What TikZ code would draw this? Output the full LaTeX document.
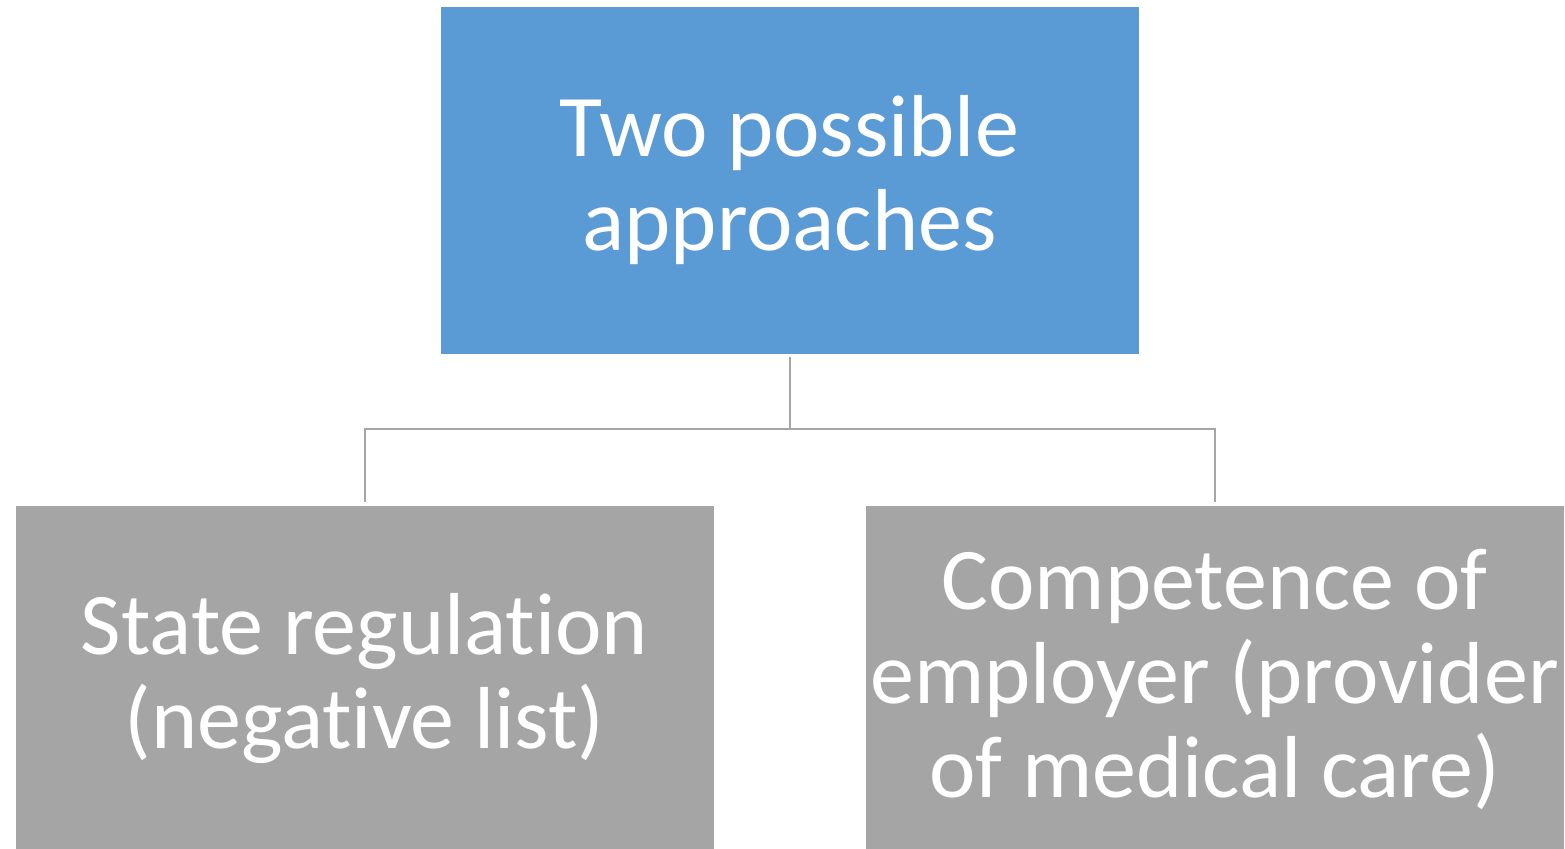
\documentclass[tikz,border=0pt]{standalone}
\usepackage{fontspec}
\setmainfont[Ligatures=NoCommon]{Carlito}
\usepackage{tikz}
\definecolor{kasseblaa}{HTML}{5B9BD5}
\definecolor{kassegraa}{HTML}{A5A5A5}
\definecolor{linjegraa}{HTML}{A6A6A6}
\tikzset{
    %Define style for boxes
    kasse/.style={
           rectangle,
           draw=white, very thin,
           text=white,
           inner sep=0pt,
           minimum width=349.5pt,
           minimum height=174pt,
           align=center,
           font=\fontsize{44}{47}\selectfont},
    topkasse/.style={kasse, fill=kasseblaa},
    undkasse/.style={kasse, fill=kassegraa},
    % Define connector style
    linje/.style={
           draw=linjegraa,
           line width=1pt}
}

\begin{document}
\begin{tikzpicture}[x=0.5pt,y=-0.5pt]
\useasboundingbox (0,0) rectangle (1565,849);
% The boxes, one on top and two below it
\node[topkasse] (top) at (789.5,180) {Two possible\\approaches};
\node[undkasse] (venstre) at (364.5,679) {State regulation\\(negative list)};
\node[undkasse] (hoejre) at (1214.5,679) {Competence of\\employer (provider\\of medical care)};

% Junction point between the levels
\coordinate (midt) at (789.5,429);

% Now connect the nodes
\draw[linje, shorten <=1.5pt] (top.south) -- (midt);
\draw[linje, shorten <=1.5pt, shorten >=1.5pt] (venstre.north) |- (midt) -| (hoejre.north);
\end{tikzpicture}
\end{document}
